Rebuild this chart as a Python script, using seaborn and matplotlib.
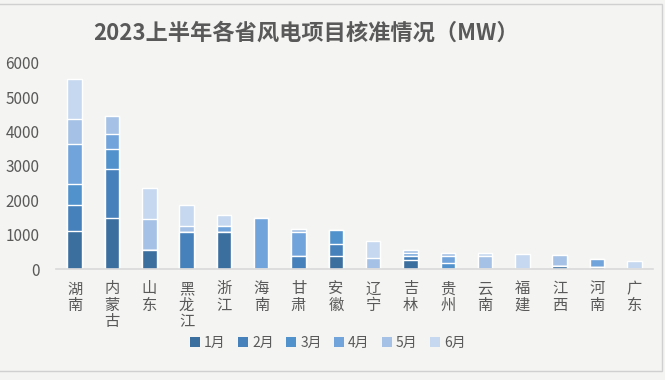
import numpy as np
import pandas as pd
import matplotlib
matplotlib.use('Agg')
import matplotlib.pyplot as plt
from matplotlib.patches import Rectangle, Patch
import seaborn as sns

# Provinces and monthly approved capacity (MW)
provinces = ['湖南', '内蒙古', '山东', '黑龙江', '浙江', '海南', '甘肃', '安徽',
             '辽宁', '吉林', '贵州', '云南', '福建', '江西', '河南', '广东']
months = ['1月', '2月', '3月', '4月', '5月', '6月']
jan = [1100, 1480, 570, 0, 1080, 0, 0, 400, 0, 260, 0, 0, 0, 110, 80, 0]
feb = [760, 1420, 0, 1080, 0, 0, 400, 330, 0, 120, 0, 0, 0, 0, 0, 0]
mar = [610, 600, 0, 0, 0, 0, 0, 400, 0, 0, 170, 0, 0, 0, 0, 0]
apr = [1170, 440, 0, 0, 170, 1490, 670, 0, 0, 80, 210, 0, 0, 0, 210, 0]
may = [720, 500, 900, 190, 0, 0, 90, 0, 330, 90, 80, 390, 0, 300, 0, 0]
jun = [1180, 0, 890, 590, 330, 0, 0, 0, 500, 0, 0, 80, 440, 0, 0, 250]

colors = ['#3b6f9d', '#4681bb', '#5192cd', '#70a4da', '#a5c2e6', '#c6d8ef']

df = pd.DataFrame({'省份': provinces, '1月': jan, '2月': feb, '3月': mar,
                   '4月': apr, '5月': may, '6月': jun})
cum = df[months].cumsum(axis=1)

sns.set_style('white')
plt.rcParams['font.family'] = ['Noto Sans CJK SC', 'DejaVu Sans']

bg = '#f4f4f2'
txt = '#595959'
fig = plt.figure(figsize=(6.65, 3.8), dpi=100, facecolor=bg)
ax = fig.add_axes([56 / 665, 1 - 269.3 / 380, (653 - 56) / 665, (269.3 - 62.7) / 380])
ax.set_facecolor('none')

# stacked bars: draw cumulative totals from the top month down
for i in range(len(months) - 1, -1, -1):
    sns.barplot(x=df['省份'], y=cum[months[i]], color=colors[i], width=0.39,
                saturation=1, ax=ax, zorder=2)

ax.set_ylim(0, 6000)
ax.set_yticks(range(0, 6001, 1000))
ax.set_xlim(-0.5, len(provinces) - 0.5)
ax.set_xlabel('')
ax.set_ylabel('')
ax.set_xticks(range(len(provinces)))
ax.set_xticklabels(['\n'.join(p) for p in provinces], linespacing=0.95,
                   va='top')
ax.tick_params(axis='both', length=0, colors=txt, labelsize=11)
ax.tick_params(axis='x', pad=8)
ax.tick_params(axis='y', pad=12)
for s in ['top', 'right', 'left']:
    ax.spines[s].set_visible(False)
ax.spines['bottom'].set_color('#d9d9d9')
ax.spines['bottom'].set_linewidth(1.2)

fig.text(306 / 665, 1 - 33 / 380, '2023上半年各省风电项目核准情况（MW）',
         ha='center', va='center', fontsize=16, fontweight='bold', color=txt)

handles = [Patch(facecolor=c, edgecolor='none') for c in colors]
fig.legend(handles, months, loc='center', bbox_to_anchor=(328 / 665, 1 - 343 / 380),
           ncol=6, frameon=False, fontsize=10, labelcolor=txt, handlelength=0.7,
           handleheight=0.7, handletextpad=0.3, columnspacing=0.9)

fig.patches.append(Rectangle((-0.01, 1 - 371 / 380), 662.5 / 665 + 0.01, 367 / 380,
                             transform=fig.transFigure, fill=False,
                             edgecolor='#d0d0d0', linewidth=1))

fig.savefig('out.png', dpi=100, facecolor=bg)
